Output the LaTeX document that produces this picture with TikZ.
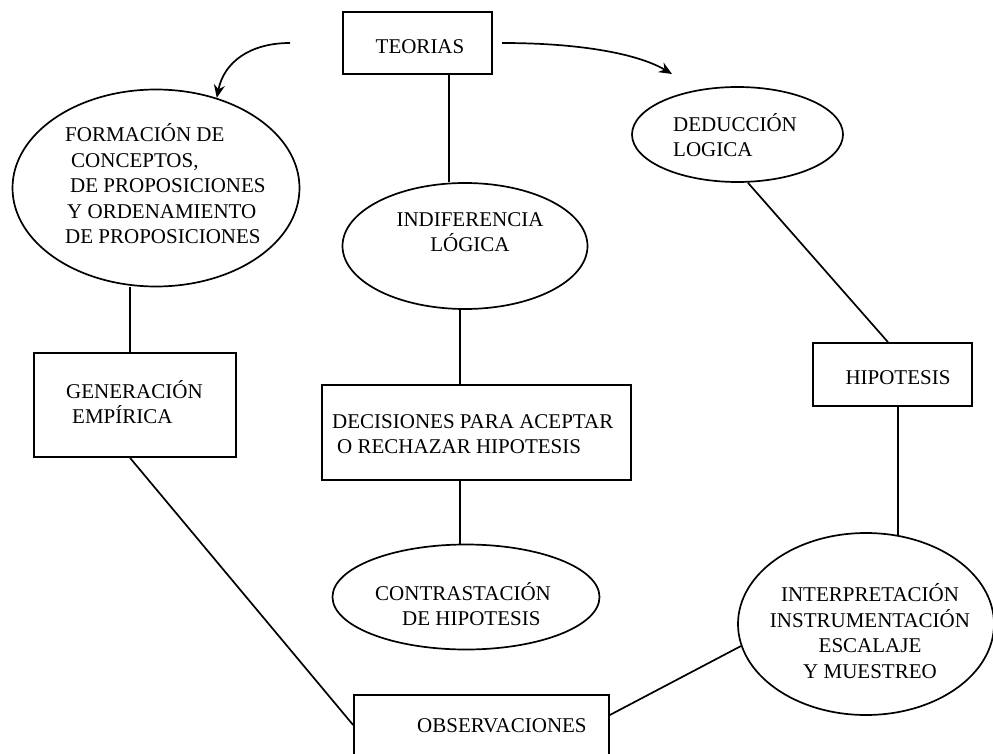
\documentclass[tikz,border=0pt]{standalone}
\usepackage{fontspec}
\setmainfont{Liberation Serif}
\usetikzlibrary{shapes.geometric,arrows.meta}
\begin{document}
\begin{tikzpicture}[x=1pt,y=-1pt,
  every node/.style={inner sep=0pt},
  txt/.style={font=\fontsize{21}{25.5}\selectfont, align=left},
  ctxt/.style={font=\fontsize{21}{25.5}\selectfont, align=center},
  ell/.style={draw, ellipse, line width=1.7pt},
  box/.style={draw, rectangle, line width=1.7pt},
  conn/.style={line width=1.7pt},
  arr/.style={line width=1.7pt, -{Stealth[length=13pt,width=11pt]}}]
\clip (0,0) rectangle (993,754);
% shapes
\node[box, minimum width=149, minimum height=62] (teo) at (417.5,43) {};
\node[ell, minimum width=287, minimum height=197] (form) at (156,188) {};
\node[ell, minimum width=211, minimum height=95] (ded) at (737.5,134.5) {};
\node[ell, minimum width=245, minimum height=126] (ind) at (465,246) {};
\node[box, minimum width=202, minimum height=104] (gen) at (135,405) {};
\node[box, minimum width=309, minimum height=95] (dec) at (476.5,432.5) {};
\node[box, minimum width=159, minimum height=63] (hip) at (892.5,374.5) {};
\node[ell, minimum width=267, minimum height=105] (contr) at (466,597) {};
\node[ell, minimum width=256, minimum height=182] (interp) at (866,624) {};
\node[box, minimum width=255, minimum height=75] (obs) at (481.5,732.5) {};
% texts
\node[ctxt] (teot) at (420,47) {TEORIAS};
\node[txt, anchor=west] (formt) at (65,184) {FORMACIÓN DE\\\hspace*{6pt}CONCEPTOS,\\\hspace*{5pt}DE PROPOSICIONES\\\hspace*{2pt}Y ORDENAMIENTO\\DE PROPOSICIONES};
\node[txt, anchor=west] (dedt) at (673,135) {DEDUCCIÓN\\LOGICA};
\node[ctxt] (indt) at (470,232) {INDIFERENCIA\\LÓGICA};
\node[txt, anchor=west] (gent) at (66,402) {GENERACIÓN\\\hspace*{6pt}EMPÍRICA};
\node[txt, anchor=west] (dect) at (332,434) {DECISIONES PARA ACEPTAR\\\hspace*{5pt}O RECHAZAR HIPOTESIS};
\node[ctxt] (hipt) at (898,378) {HIPOTESIS};
\node[txt, anchor=west] (contrt) at (375,604) {CONTRASTACIÓN\\\hspace*{27pt}DE HIPOTESIS};
\node[ctxt] (interpt) at (870,631) {INTERPRETACIÓN\\INSTRUMENTACIÓN\\ESCALAJE\\Y MUESTREO};
\node[txt, anchor=west] (obst) at (417,726) {OBSERVACIONES};
% arrows
\coordinate (la) at (290,43);
\coordinate (ra1) at (502,43);
\coordinate (ra2) at (672,74);
\draw[arr] (la) .. controls (250,43) and (224,62) .. (form.56);
\draw[arr] (ra1) .. controls (585,43) and (640,55) .. (ra2);
% connectors
\draw[conn] ([xshift=31.5]teo.south) -- ([xshift=-16]ind.north);
\draw[conn] ([xshift=-5]ind.south) -- ([xshift=-16.5]dec.north);
\draw[conn] ([xshift=-16.5]dec.south) -- ([xshift=-6]contr.north);
\draw[conn] ([xshift=-26]form.south) -- ([xshift=-5]gen.north);
\draw[conn] ([xshift=-5]gen.south) -- ([yshift=7.5]obs.west);
\draw[conn] ([yshift=17.5]obs.east) -- (interp.190);
\draw[conn] ([xshift=10.5]ded.south) -- ([xshift=-4.5]hip.north);
\draw[conn] ([xshift=5.5]hip.south) -- ([xshift=32,yshift=-3]interp.north);
\end{tikzpicture}
\end{document}
